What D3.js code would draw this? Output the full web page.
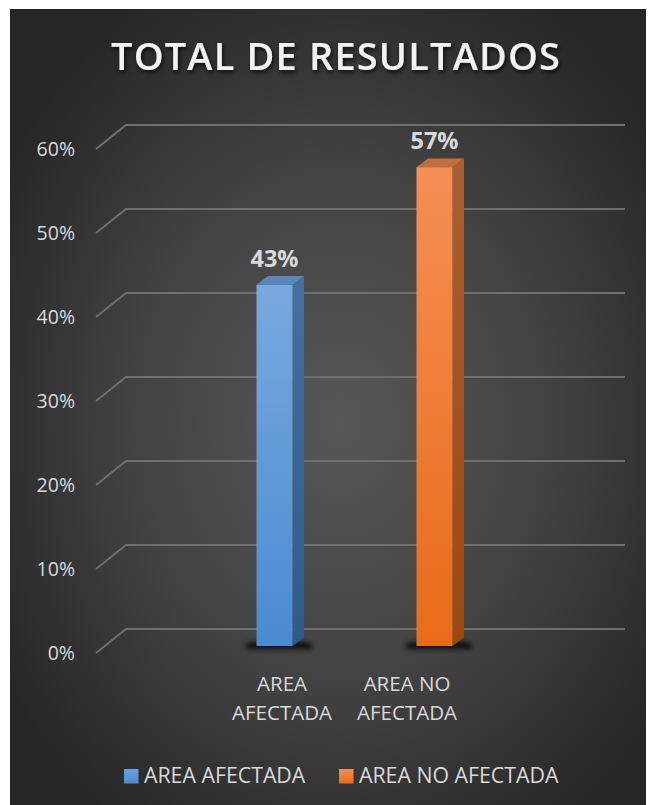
<!DOCTYPE html>
<html><head><meta charset="utf-8">
<script src="https://cdn.jsdelivr.net/npm/d3@7"></script>
<style>html,body{margin:0;padding:0;background:#fff;}svg{display:block;}</style>
</head><body>
<svg id="chart" width="649" height="805"></svg>
<script>
const title = "TOTAL DE RESULTADOS";
const categories = ["AREA AFECTADA", "AREA NO AFECTADA"];
const categoryLines = [["AREA", "AFECTADA"], ["AREA NO", "AFECTADA"]];
const values = [0.43, 0.57];
const valueLabels = ["43%", "57%"];
const yTicks = [0, 0.1, 0.2, 0.3, 0.4, 0.5, 0.6];

const svg = d3.select("#chart");
const defs = svg.append("defs");

const bg = defs.append("radialGradient").attr("id","bg").attr("cx","52%").attr("cy","52%").attr("r","62%");
bg.append("stop").attr("offset","0%").attr("stop-color","#575757");
bg.append("stop").attr("offset","55%").attr("stop-color","#414141");
bg.append("stop").attr("offset","100%").attr("stop-color","#262626");

function lin(id, c1, c2){
  const g = defs.append("linearGradient").attr("id",id).attr("x1",0).attr("y1",0).attr("x2",0).attr("y2",1);
  g.append("stop").attr("offset","0%").attr("stop-color",c1);
  g.append("stop").attr("offset","100%").attr("stop-color",c2);
}
const palette = [
  {front:["#78a9df","#4a8bd0"], side:["#46719e","#2f5b89"], top:"#5a88bb", legend:["#6aa2dc","#4a8bd0"]},
  {front:["#f58f55","#e86b18"], side:["#a95f33","#9a4912"], top:"#c46d3c", legend:["#f58f55","#e86b18"]}
];
palette.forEach((p,i)=>{ lin("f"+i,p.front[0],p.front[1]); lin("s"+i,p.side[0],p.side[1]); lin("l"+i,p.legend[0],p.legend[1]); });

const blur = defs.append("filter").attr("id","blur").attr("x","-50%").attr("y","-100%").attr("width","200%").attr("height","300%");
blur.append("feGaussianBlur").attr("stdDeviation",2.5);
const ts = defs.append("filter").attr("id","tshadow").attr("x","-10%").attr("y","-30%").attr("width","120%").attr("height","160%");
ts.append("feDropShadow").attr("dx",1.5).attr("dy",2.5).attr("stdDeviation",2).attr("flood-color","#000").attr("flood-opacity",0.75);

svg.append("rect").attr("x",10).attr("y",9).attr("width",636).attr("height",796).attr("fill","url(#bg)");

// title
svg.append("text").attr("x",335.5).attr("y",70).attr("text-anchor","middle")
  .attr("font-family","'Open Sans', sans-serif").attr("font-weight",600).attr("font-size",38)
  .attr("textLength",449).attr("lengthAdjust","spacing")
  .attr("fill","#f2f2f2").attr("filter","url(#tshadow)").text(title);

// scales
const yBack = d3.scaleLinear().domain([0,0.6]).range([629,125]);
const yFront = d3.scaleLinear().domain([0,0.6]).range([646,142]);
const x = d3.scaleBand().domain(categories).range([194.5,514.5]);
const xLabel = d3.scalePoint().domain(categories).range([282,407]);
const barW = 36, dx = 11.5, dy = -8.7;
const gridLeft = 126, gridRight = 625, slantX = 30, slantY = 24;

// gridlines
const grid = svg.append("g");
yTicks.forEach(t=>{
  const yb = yBack(t);
  grid.append("path").attr("d",`M${gridLeft-slantX},${yb+slantY}L${gridLeft},${yb}L${gridRight},${yb}`)
    .attr("fill","none").attr("stroke","#6f6f6f").attr("stroke-width",2);
  grid.append("text").attr("x",75).attr("y",yb+slantY).attr("dy","0.35em").attr("text-anchor","end")
    .attr("font-family","'Open Sans', sans-serif").attr("font-size",19.5).attr("fill","#d9d9d9")
    .text(d3.format(".0%")(t));
});

// bars
const bars = svg.append("g");
categories.forEach((c,i)=>{
  const xl = x(c) + x.bandwidth()/2 - barW/2, xr = xl + barW;
  const y0 = yFront(0), y1 = yFront(values[i]);
  bars.append("path").attr("d",`M${xl-13},${y0+3}L${xr+dx+10},${y0+3}L${xr+dx+5},${y0-4}L${xl-7},${y0-4}Z`)
    .attr("fill","#000").attr("opacity",0.8).attr("filter","url(#blur)");
  bars.append("path").attr("d",`M${xr},${y1}L${xr+dx},${y1+dy}L${xr+dx},${y0+dy}L${xr},${y0}Z`).attr("fill",`url(#s${i})`);
  bars.append("path").attr("d",`M${xl},${y1}L${xl+dx},${y1+dy}L${xr+dx},${y1+dy}L${xr},${y1}Z`).attr("fill",palette[i].top);
  bars.append("rect").attr("x",xl).attr("y",y1).attr("width",barW).attr("height",y0-y1).attr("fill",`url(#f${i})`);
  bars.append("text").attr("x",xl+barW/2).attr("y",y1-18).attr("text-anchor","middle")
    .attr("font-family","'Open Sans', sans-serif").attr("font-weight",700).attr("font-size",23.5).attr("fill","#d9d9d9")
    .text(valueLabels[i]);
  const lab = svg.append("text").attr("text-anchor","middle")
    .attr("font-family","'Open Sans', sans-serif").attr("font-size",20.5).attr("fill","#d9d9d9");
  categoryLines[i].forEach((ln,j)=>{
    lab.append("tspan").attr("x",xLabel(c)).attr("y",691+29*j).text(ln);
  });
});

// legend
const legendX = [124, 339];
categories.forEach((c,i)=>{
  svg.append("rect").attr("x",legendX[i]).attr("y",769).attr("width",14.5).attr("height",14.5).attr("fill",`url(#l${i})`);
  svg.append("text").attr("x",legendX[i]+20).attr("y",783).attr("font-family","'Open Sans', sans-serif")
    .attr("font-size",21.3).attr("fill","#d9d9d9").text(c);
});
</script>
</body></html>
